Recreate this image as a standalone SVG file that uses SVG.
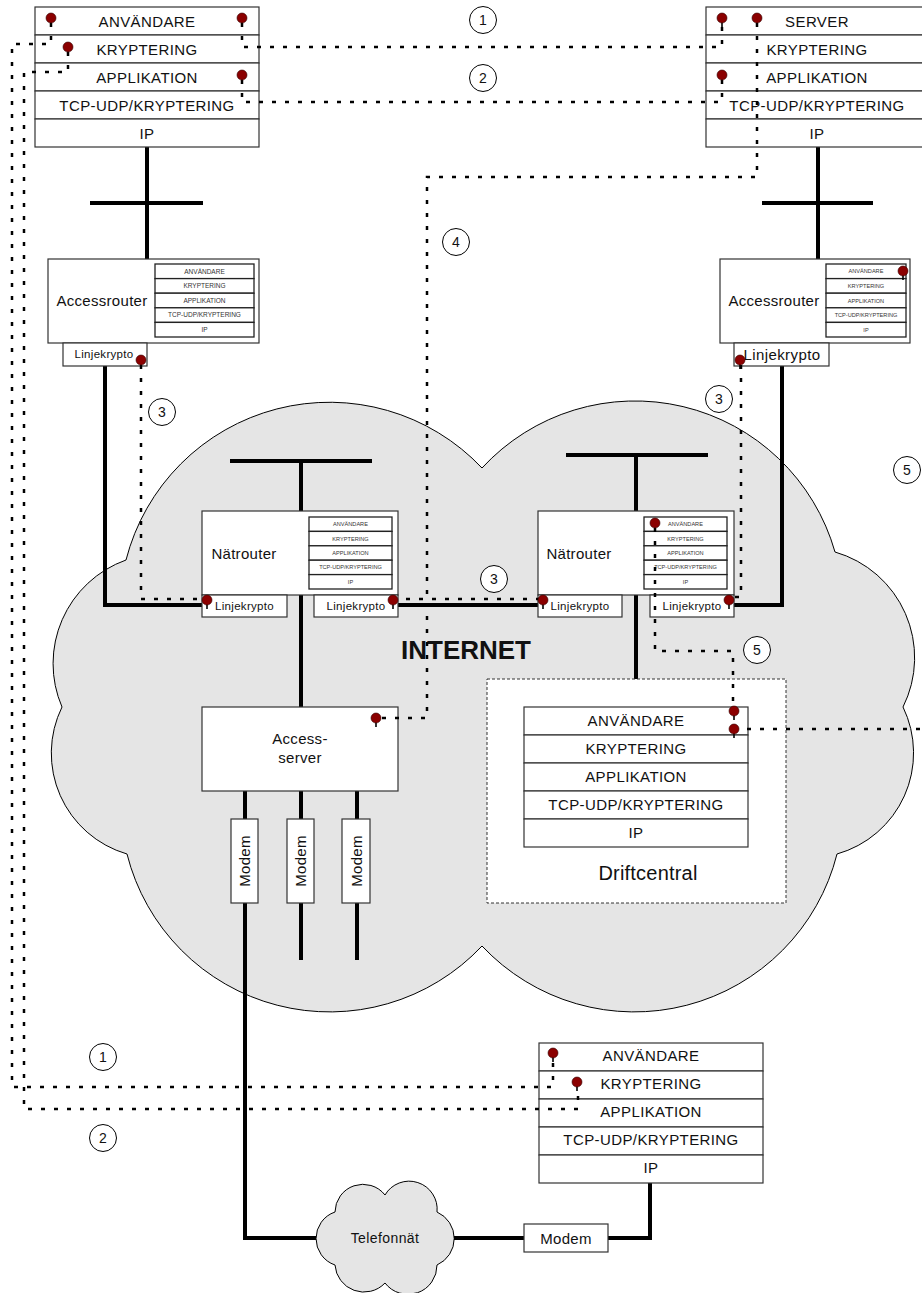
<svg xmlns="http://www.w3.org/2000/svg" xmlns:xlink="http://www.w3.org/1999/xlink" width="922" height="1293" viewBox="0 0 922 1293">
<style>
text{font-family:"Liberation Sans",Arial,sans-serif;fill:#111}
.stk{font-size:15px;letter-spacing:0.4px;text-anchor:middle}
.mini{font-size:6.5px;text-anchor:middle;fill:#333}
.minir{font-size:5.6px;text-anchor:middle;fill:#333}
.lk{font-size:11.5px;letter-spacing:0.3px;text-anchor:middle}
.big{font-size:15px;letter-spacing:0.3px;text-anchor:middle}
.box{fill:#fff;stroke:#333;stroke-width:1.2}
.mbox{fill:#fff;stroke:#222;stroke-width:1.3}
.wire{fill:none;stroke:#000;stroke-width:4}
.route{fill:none;stroke:#000;stroke-width:2.5;stroke-dasharray:4 9}
.cloud{fill:#e5e5e5;stroke:#000;stroke-width:1}
.lbl circle{fill:#fff;stroke:#000;stroke-width:1}
.lbl text{font-size:14px;text-anchor:middle}
</style>
<defs>
<g id="pin"><line x1="0" y1="3" x2="0" y2="9" stroke="#000" stroke-width="1.6"/><circle r="5" fill="#8b0000" stroke="#300" stroke-width="0.6"/></g>
</defs>

<g id="internet-cloud">
<path class="cloud" d="M126,560 A210,210 0 0 1 482,468 A208,208 0 0 1 835,552 A110,110 0 0 1 903,707 A105,105 0 0 1 837,854 A209,209 0 0 1 482,946 A209,209 0 0 1 127,854 A105,105 0 0 1 62,707 A110,110 0 0 1 126,560 Z"/>
<text x="466" y="659" style="font-size:26px;font-weight:bold;text-anchor:middle">INTERNET</text>
</g>

<g id="telefonnat">
<path class="cloud" d="M335,1212 A28,28 0 0 1 385,1195 A28,28 0 0 1 437,1212 A29,29 0 0 1 437,1265 A29,29 0 0 1 385,1283 A29,29 0 0 1 335,1265 A28,28 0 0 1 335,1212 Z"/>
<text x="385" y="1243" style="font-size:14px;letter-spacing:0.4px;text-anchor:middle">Telefonnät</text>
</g>

<g id="connectors">
<g id="wires" class="wire">
<path d="M147,147 V259 M90,203 H203"/>
<path d="M818,147 V259 M762,203 H873"/>
<path d="M105,366 V605 H202"/>
<path d="M782,366 V605 H734"/>
<path d="M398,605 H538"/>
<path d="M230,461 H372 M301,461 V511"/>
<path d="M566,455 H708 M636,455 V511"/>
<path d="M301,595 V707 M636,595 V707"/>
<path d="M245,791 V819 M301,791 V819 M357,791 V819"/>
<path d="M245,903 V1238 H316 M301,903 V960 M357,903 V960"/>
<path d="M454,1238 H524 M608,1238 H650 V1182"/>
</g>
</g>

<g id="user-top">
<rect class="box" x="35" y="7" width="224" height="28"/>
<rect class="box" x="35" y="35" width="224" height="28"/>
<rect class="box" x="35" y="63" width="224" height="28"/>
<rect class="box" x="35" y="91" width="224" height="28"/>
<rect class="box" x="35" y="119" width="224" height="28"/>
<text class="stk" x="147" y="26.5">ANVÄNDARE</text>
<text class="stk" x="147" y="54.5">KRYPTERING</text>
<text class="stk" x="147" y="82.5">APPLIKATION</text>
<text class="stk" x="147" y="110.5">TCP-UDP/KRYPTERING</text>
<text class="stk" x="147" y="138.5">IP</text>
</g>

<g id="server">
<rect class="box" x="706" y="7" width="224" height="28"/>
<rect class="box" x="706" y="35" width="224" height="28"/>
<rect class="box" x="706" y="63" width="224" height="28"/>
<rect class="box" x="706" y="91" width="224" height="28"/>
<rect class="box" x="706" y="119" width="224" height="28"/>
<text class="stk" x="817" y="26.5">SERVER</text>
<text class="stk" x="817" y="54.5">KRYPTERING</text>
<text class="stk" x="817" y="82.5">APPLIKATION</text>
<text class="stk" x="817" y="110.5">TCP-UDP/KRYPTERING</text>
<text class="stk" x="817" y="138.5">IP</text>
</g>

<g id="accessrouter-left">
<rect class="box" x="48" y="259" width="211" height="84"/>
<text class="big" x="102" y="305.5">Accessrouter</text>
<rect class="mbox" x="155" y="264" width="99" height="14.6"/>
<rect class="mbox" x="155" y="278.6" width="99" height="14.6"/>
<rect class="mbox" x="155" y="293.2" width="99" height="14.6"/>
<rect class="mbox" x="155" y="307.8" width="99" height="14.6"/>
<rect class="mbox" x="155" y="322.4" width="99" height="14.6"/>
<text class="mini" x="204.5" y="273.6">ANVÄNDARE</text>
<text class="mini" x="204.5" y="288.2">KRYPTERING</text>
<text class="mini" x="204.5" y="302.8">APPLIKATION</text>
<text class="mini" x="204.5" y="317.4">TCP-UDP/KRYPTERING</text>
<text class="mini" x="204.5" y="332">IP</text>
<rect class="box" x="63" y="343" width="84" height="23"/>
<text class="lk" x="104" y="357.5">Linjekrypto</text>
</g>

<g id="accessrouter-right">
<rect class="box" x="720" y="259" width="190" height="84"/>
<text class="big" x="774" y="305.5">Accessrouter</text>
<rect class="mbox" x="826" y="264" width="80" height="14.6"/>
<rect class="mbox" x="826" y="278.6" width="80" height="14.6"/>
<rect class="mbox" x="826" y="293.2" width="80" height="14.6"/>
<rect class="mbox" x="826" y="307.8" width="80" height="14.6"/>
<rect class="mbox" x="826" y="322.4" width="80" height="14.6"/>
<text class="minir" x="866" y="273.3">ANVÄNDARE</text>
<text class="minir" x="866" y="287.9">KRYPTERING</text>
<text class="minir" x="866" y="302.5">APPLIKATION</text>
<text class="minir" x="866" y="317.1">TCP-UDP/KRYPTERING</text>
<text class="minir" x="866" y="331.7">IP</text>
<rect class="box" x="734" y="343" width="95" height="23"/>
<text x="782" y="360" style="font-size:15px;letter-spacing:0.4px;text-anchor:middle">Linjekrypto</text>
</g>

<g id="natrouter-left">
<rect class="box" x="202" y="511" width="196" height="84"/>
<text class="big" x="244" y="558.5">Nätrouter</text>
<rect class="mbox" x="309" y="517" width="83" height="14.4"/>
<rect class="mbox" x="309" y="531.4" width="83" height="14.4"/>
<rect class="mbox" x="309" y="545.8" width="83" height="14.4"/>
<rect class="mbox" x="309" y="560.2" width="83" height="14.4"/>
<rect class="mbox" x="309" y="574.6" width="83" height="14.4"/>
<text class="minir" x="350.5" y="526.2">ANVÄNDARE</text>
<text class="minir" x="350.5" y="540.6">KRYPTERING</text>
<text class="minir" x="350.5" y="555">APPLIKATION</text>
<text class="minir" x="350.5" y="569.4">TCP-UDP/KRYPTERING</text>
<text class="minir" x="350.5" y="583.8">IP</text>
<rect class="box" x="202" y="595" width="85" height="22"/>
<rect class="box" x="314" y="595" width="84" height="22"/>
<text class="lk" x="244.5" y="610">Linjekrypto</text>
<text class="lk" x="356" y="610">Linjekrypto</text>
</g>

<g id="natrouter-right">
<rect class="box" x="538" y="511" width="196" height="84"/>
<text class="big" x="579" y="558.5">Nätrouter</text>
<rect class="mbox" x="644" y="517" width="83" height="14.4"/>
<rect class="mbox" x="644" y="531.4" width="83" height="14.4"/>
<rect class="mbox" x="644" y="545.8" width="83" height="14.4"/>
<rect class="mbox" x="644" y="560.2" width="83" height="14.4"/>
<rect class="mbox" x="644" y="574.6" width="83" height="14.4"/>
<text class="minir" x="685.5" y="526.2">ANVÄNDARE</text>
<text class="minir" x="685.5" y="540.6">KRYPTERING</text>
<text class="minir" x="685.5" y="555">APPLIKATION</text>
<text class="minir" x="685.5" y="569.4">TCP-UDP/KRYPTERING</text>
<text class="minir" x="685.5" y="583.8">IP</text>
<rect class="box" x="538" y="595" width="84" height="22"/>
<rect class="box" x="650" y="595" width="84" height="22"/>
<text class="lk" x="580" y="610">Linjekrypto</text>
<text class="lk" x="692" y="610">Linjekrypto</text>
</g>

<g id="access-server">
<rect class="box" x="202" y="707" width="196" height="84"/>
<text class="big" x="300" y="744">Access-</text>
<text class="big" x="300" y="763">server</text>
</g>

<g id="modems">
<rect class="box" x="231" y="819" width="27" height="84"/>
<rect class="box" x="287" y="819" width="27" height="84"/>
<rect class="box" x="342" y="819" width="28" height="84"/>
<text class="big" transform="translate(250,861) rotate(-90)">Modem</text>
<text class="big" transform="translate(306,861) rotate(-90)">Modem</text>
<text class="big" transform="translate(361.5,861) rotate(-90)">Modem</text>
</g>

<g id="driftcentral">
<rect x="487" y="679" width="299" height="224" fill="#fff" stroke="#333" stroke-width="1" stroke-dasharray="3 2"/>
<rect class="box" x="524" y="707" width="224" height="28"/>
<rect class="box" x="524" y="735" width="224" height="28"/>
<rect class="box" x="524" y="763" width="224" height="28"/>
<rect class="box" x="524" y="791" width="224" height="28"/>
<rect class="box" x="524" y="819" width="224" height="28"/>
<text class="stk" x="636" y="726">ANVÄNDARE</text>
<text class="stk" x="636" y="754">KRYPTERING</text>
<text class="stk" x="636" y="782">APPLIKATION</text>
<text class="stk" x="636" y="810">TCP-UDP/KRYPTERING</text>
<text class="stk" x="636" y="838">IP</text>
<text x="648" y="880" style="font-size:20px;letter-spacing:0.2px;text-anchor:middle">Driftcentral</text>
</g>

<g id="user-bottom">
<rect class="box" x="539" y="1043" width="224" height="28"/>
<rect class="box" x="539" y="1071" width="224" height="28"/>
<rect class="box" x="539" y="1099" width="224" height="28"/>
<rect class="box" x="539" y="1127" width="224" height="28"/>
<rect class="box" x="539" y="1155" width="224" height="28"/>
<text class="stk" x="651" y="1061">ANVÄNDARE</text>
<text class="stk" x="651" y="1089">KRYPTERING</text>
<text class="stk" x="651" y="1117">APPLIKATION</text>
<text class="stk" x="651" y="1145">TCP-UDP/KRYPTERING</text>
<text class="stk" x="651" y="1173">IP</text>
</g>

<g id="modem-bottom">
<rect class="box" x="524" y="1224" width="84" height="28"/>
<text class="big" x="566" y="1243.5">Modem</text>
</g>

<g id="routes" class="route">
<path d="M242,23 V47 H722 V23"/>
<path d="M242,80 V102 H722 V80"/>
<path d="M51,23 V44 H12 V1087 H553 V1058"/>
<path d="M68,52 V72 H24 V1109 H578 V1087"/>
<path d="M141,365 V599 H207"/>
<path d="M393,599 H543"/>
<path d="M741,365 V597 H729"/>
<path d="M757,23 V177 H427 V718 H376"/>
<path d="M655,528 V651 H733 V711"/>
<path d="M734,729 H922"/>
</g>

<g id="pins">
<use xlink:href="#pin" x="51" y="18"/>
<use xlink:href="#pin" x="242" y="18"/>
<use xlink:href="#pin" x="68" y="47"/>
<use xlink:href="#pin" x="242" y="75"/>
<use xlink:href="#pin" x="722" y="18"/>
<use xlink:href="#pin" x="757" y="18"/>
<use xlink:href="#pin" x="722" y="75"/>
<use xlink:href="#pin" x="141" y="360"/>
<use xlink:href="#pin" x="740" y="360"/>
<use xlink:href="#pin" x="903" y="271"/>
<use xlink:href="#pin" x="207" y="600"/>
<use xlink:href="#pin" x="393" y="600"/>
<use xlink:href="#pin" x="543" y="600"/>
<use xlink:href="#pin" x="729" y="600"/>
<use xlink:href="#pin" x="655" y="523"/>
<use xlink:href="#pin" x="376" y="718"/>
<use xlink:href="#pin" x="734" y="711"/>
<use xlink:href="#pin" x="734" y="729"/>
<use xlink:href="#pin" x="553" y="1053"/>
<use xlink:href="#pin" x="577" y="1082"/>
</g>

<g id="labels" class="lbl">
<g><circle cx="483" cy="20" r="13.5"/><text x="483" y="25">1</text></g>
<g><circle cx="483" cy="78" r="13.5"/><text x="483" y="83">2</text></g>
<g><circle cx="456" cy="242" r="13.5"/><text x="456" y="247">4</text></g>
<g><circle cx="162" cy="412" r="13.5"/><text x="162" y="417">3</text></g>
<g><circle cx="719" cy="399" r="13.5"/><text x="719" y="404">3</text></g>
<g><circle cx="494" cy="579" r="13.5"/><text x="494" y="584">3</text></g>
<g><circle cx="757" cy="650" r="13.5"/><text x="757" y="655">5</text></g>
<g><circle cx="907" cy="470" r="13.5"/><text x="907" y="475">5</text></g>
<g><circle cx="103" cy="1057" r="13.5"/><text x="103" y="1062">1</text></g>
<g><circle cx="103" cy="1138" r="13.5"/><text x="103" y="1143">2</text></g>
</g>
</svg>
